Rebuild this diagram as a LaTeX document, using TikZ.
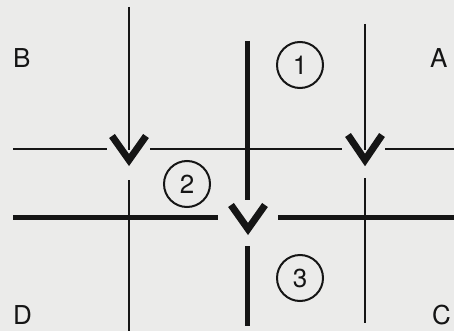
\documentclass[tikz,border=0pt]{standalone}
\usepackage{fontspec}
\setmainfont{TeX Gyre Heros}
\definecolor{bg}{HTML}{EBEBEA}
\definecolor{ink}{HTML}{151515}
\begin{document}
\begin{tikzpicture}[x=1pt,y=-1pt,
  thinln/.style={line width=2pt, draw=ink},
  thickln/.style={line width=5pt, draw=ink},
  vee/.style={line width=7pt, draw=ink, line join=miter, line cap=butt},
  lbl/.style={font=\fontsize{26}{30}\selectfont, text=ink, inner sep=0pt, anchor=base west},
  num/.style={circle, draw=ink, line width=2pt, minimum size=46pt, inner sep=0pt,
              font=\fontsize{26}{30}\selectfont, text=ink}]
\fill[bg] (0,0) rectangle (454,331);
\useasboundingbox (0,0) rectangle (454,331);

% named points
\coordinate (L1top) at (129,7);   \coordinate (L1in) at (129,150);
\coordinate (L1bot) at (129,180); \coordinate (L1end) at (129,331);
\coordinate (R1top) at (365,24);  \coordinate (R1in) at (365,150);
\coordinate (R1bot) at (365,178); \coordinate (R1end) at (365,323);
\coordinate (H1a) at (13,149);  \coordinate (H1b) at (107,149);
\coordinate (H1c) at (150,149); \coordinate (H1d) at (342,149);
\coordinate (H1e) at (385,149); \coordinate (H1f) at (454,149);
\coordinate (TVa) at (247,41);  \coordinate (TVb) at (247,200);
\coordinate (TVc) at (247,246); \coordinate (TVd) at (247,326);
\coordinate (THa) at (13,217);  \coordinate (THb) at (218,217);
\coordinate (THc) at (278,217); \coordinate (THd) at (454,217);

% thin lines
\draw[thinln] (L1top) -- (L1in);
\draw[thinln] (L1bot) -- (L1end);
\draw[thinln] (R1top) -- (R1in);
\draw[thinln] (R1bot) -- (R1end);
\draw[thinln] (H1a) -- (H1b);
\draw[thinln] (H1c) -- (H1d);
\draw[thinln] (H1e) -- (H1f);

% thick lines
\draw[thickln] (TVa) -- (TVb);
\draw[thickln] (TVc) -- (TVd);
\draw[thickln] (THa) -- (THb);
\draw[thickln] (THc) -- (THd);

% V marks
\draw[vee] (112,136) -- (129,160) -- (146,136);
\draw[vee] (231,205) -- (248,229) -- (265,205);
\draw[vee] (348,135) -- (365,160) -- (382,135);

% circled numbers
\node[num] (n1) at (300,65) {1};
\node[num] (n2) at (187,184) {2};
\node[num] (n3) at (300,278) {3};

% corner labels
\node[lbl] (B) at (13,68) {B};
\node[lbl] (A) at (430,68) {A};
\node[lbl] (D) at (13,324) {D};
\node[lbl] (C) at (432,324) {C};
\end{tikzpicture}
\end{document}
